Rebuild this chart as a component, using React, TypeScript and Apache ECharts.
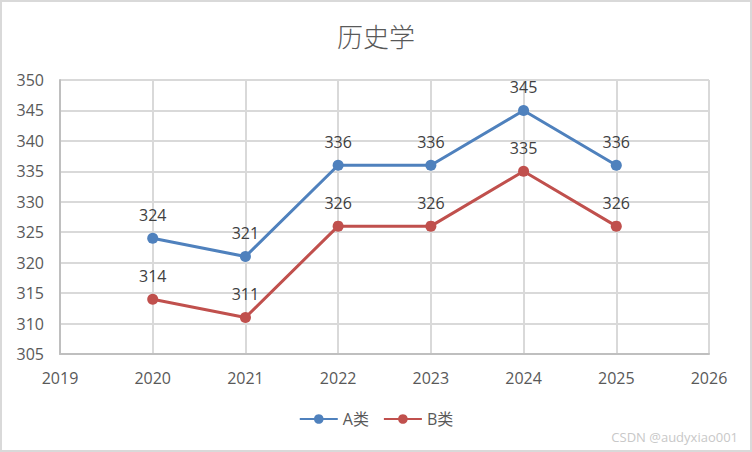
import React, { useEffect, useRef } from "react";
import * as echarts from "echarts";

const years = [2020, 2021, 2022, 2023, 2024, 2025];
const seriesA = [324, 321, 336, 336, 345, 336];
const seriesB = [314, 311, 326, 326, 335, 326];
const seriesNames = ["A类", "B类"];
const colors = ["#4f81bd", "#c0504d"];

export default function App() {
  const ref = useRef<HTMLDivElement>(null);
  useEffect(() => {
    document.body.style.margin = "0";
    const chart = echarts.init(ref.current!, null, { renderer: "svg" });
    const font = "'Open Sans', 'Noto Sans CJK SC', sans-serif";
    const mk = (name: string, vals: number[], color: string) => ({
      name,
      type: "line",
      data: years.map((y, i) => [y, vals[i]]),
      symbol: "circle",
      symbolSize: 11,
      lineStyle: { color, width: 3 },
      itemStyle: { color },
      label: {
        show: true,
        position: "top",
        distance: 10,
        color: "#404040",
        fontSize: 16,
        fontFamily: font,
      },
    });
    chart.setOption({
      animation: false,
      backgroundColor: "#fff",
      title: {
        text: "历史学",
        left: "center",
        top: 17,
        textStyle: {
          fontSize: 26,
          fontWeight: 300,
          color: "#595959",
          fontFamily: "'Noto Sans CJK SC', sans-serif",
        },
      },
      graphic: [
        {
          type: "rect",
          shape: { x: 1, y: 1, width: 750, height: 450 },
          style: { fill: "none", stroke: "#d9d9d9", lineWidth: 2 },
          silent: true,
        },
        {
          type: "text",
          right: 14,
          top: 430,
          style: {
            text: "CSDN @audyxiao001",
            fill: "#c8c8c8",
            fontSize: 13,
            fontFamily: font,
          },
        },
      ],
      legend: {
        bottom: 20,
        left: "center",
        itemWidth: 38,
        itemHeight: 12,
        itemGap: 14,
        textStyle: { fontSize: 16, color: "#595959", fontFamily: font },
        data: seriesNames,
      },
      grid: { left: 60, right: 43, top: 80, bottom: 98 },
      xAxis: {
        type: "value",
        min: 2019,
        max: 2026,
        interval: 1,
        axisLine: { show: true, lineStyle: { color: "#bfbfbf", width: 2 } },
        axisTick: { show: false },
        splitLine: { show: true, lineStyle: { color: "#d9d9d9", width: 2 } },
        axisLabel: {
          color: "#595959",
          fontSize: 16,
          margin: 16,
          fontFamily: font,
          formatter: (v: number) => String(v),
        },
      },
      yAxis: {
        type: "value",
        min: 305,
        max: 350,
        interval: 5,
        axisLine: { show: true, lineStyle: { color: "#bfbfbf", width: 2 } },
        axisTick: { show: false },
        splitLine: { show: true, lineStyle: { color: "#d9d9d9", width: 2 } },
        axisLabel: { color: "#595959", fontSize: 16, margin: 16, fontFamily: font },
      },
      series: [mk(seriesNames[0], seriesA, colors[0]), mk(seriesNames[1], seriesB, colors[1])],
    });
    return () => chart.dispose();
  }, []);
  return <div ref={ref} style={{ width: 752, height: 452 }} />;
}
